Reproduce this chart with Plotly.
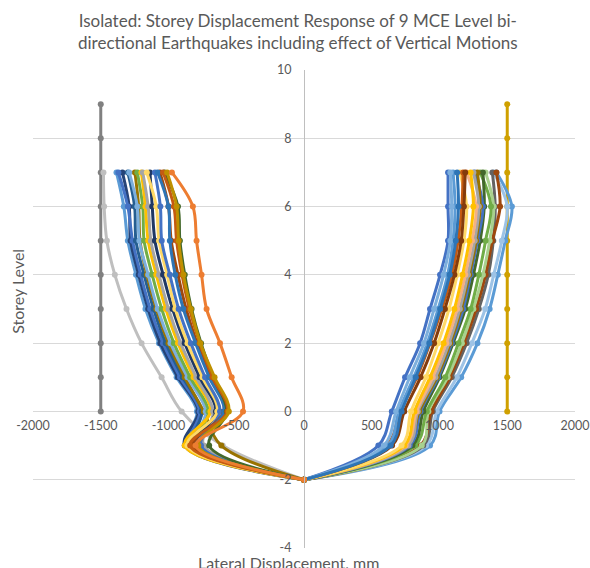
import plotly.graph_objects as go

LEVELS = [7, 6, 5, 4, 3, 2, 1, 0, -1, -2]
REF_LEVELS = [0, 1, 2, 3, 4, 5, 6, 7, 8, 9]
REF_LEFT_X = [-1500] * 10
REF_RIGHT_X = [1500] * 10

LEFT_SERIES = [
    [-1480, -1475, -1455, -1396, -1310, -1199, -1051, -903, -600, 0],
    [-1384, -1330, -1300, -1240, -1170, -1070, -940, -790, -860, 0],
    [-1340, -1290, -1280, -1220, -1150, -1060, -930, -780, -880, 0],
    [-1370, -1300, -1265, -1205, -1135, -1040, -915, -770, -840, 0],
    [-1300, -1250, -1240, -1180, -1110, -1020, -895, -755, -820, 0],
    [-1248, -1220, -1210, -1160, -1090, -1000, -880, -740, -610, 0],
    [-1290, -1230, -1215, -1150, -1080, -985, -860, -725, -800, 0],
    [-1230, -1190, -1180, -1120, -1050, -960, -840, -705, -790, 0],
    [-1200, -1170, -1150, -1090, -1020, -930, -815, -690, -880, 0],
    [-1190, -1150, -1130, -1070, -1000, -910, -795, -670, -740, 0],
    [-1137, -1120, -1100, -1040, -970, -880, -770, -650, -800, 0],
    [-1160, -1090, -1070, -1010, -950, -860, -750, -640, -860, 0],
    [-1100, -1060, -1050, -990, -925, -835, -730, -620, -760, 0],
    [-1063, -1000, -980, -930, -870, -790, -690, -590, -820, 0],
    [-1080, -1000, -990, -950, -890, -800, -700, -590, -780, 0],
    [-1030, -930, -916, -880, -830, -760, -670, -570, -700, 0],
    [-1040, -960, -940, -900, -845, -770, -675, -565, -840, 0],
    [-1010, -940, -925, -890, -835, -765, -660, -555, -780, 0],
    [-975, -820, -793, -756, -719, -620, -534, -450, -800, 0],
]
LEFT_COLORS = [
    "#BFBFBF", "#5B9BD5", "#264478", "#4472C4", "#255E91", "#997300",
    "#7CAFDD", "#70AD47", "#FFC000", "#A5A5A5", "#1F3864", "#FFD966",
    "#4472C4", "#9E480E", "#2E75B6", "#43682B", "#C55A11", "#BF9000",
    "#ED7D31",
]

RIGHT_SERIES = [
    [1420, 1534, 1485, 1430, 1370, 1280, 1160, 1000, 930, 0],
    [1400, 1500, 1460, 1400, 1337, 1239, 1128, 980, 900, 0],
    [1390, 1411, 1397, 1360, 1290, 1200, 1090, 950, 880, 0],
    [1420, 1447, 1390, 1340, 1270, 1180, 1075, 940, 860, 0],
    [1340, 1400, 1370, 1320, 1250, 1165, 1060, 918, 869, 0],
    [1300, 1380, 1340, 1290, 1230, 1140, 1042, 906, 820, 0],
    [1320, 1330, 1300, 1250, 1190, 1100, 1000, 880, 800, 0],
    [1260, 1320, 1280, 1230, 1175, 1090, 990, 860, 780, 0],
    [1280, 1300, 1270, 1220, 1160, 1080, 980, 850, 760, 0],
    [1250, 1290, 1260, 1210, 1150, 1070, 970, 840, 770, 0],
    [1200, 1270, 1240, 1190, 1130, 1050, 950, 830, 750, 0],
    [1230, 1250, 1220, 1170, 1110, 1030, 930, 815, 740, 0],
    [1150, 1200, 1180, 1130, 1070, 990, 900, 790, 720, 0],
    [1174, 1165, 1137, 1091, 1017, 930, 833, 709, 611, 0],
    [1190, 1180, 1160, 1110, 1040, 960, 860, 740, 650, 0],
    [1100, 1115, 1100, 1060, 990, 910, 810, 700, 620, 0],
    [1063, 1063, 1063, 1004, 930, 857, 746, 648, 549, 0],
    [1080, 1090, 1080, 1030, 960, 885, 780, 680, 590, 0],
    [1130, 1140, 1120, 1075, 1005, 925, 825, 720, 640, 0],
]
RIGHT_COLORS = [
    "#5B9BD5", "#9DC3E6", "#636363", "#9E480E", "#A9D18E", "#70AD47",
    "#43682B", "#4472C4", "#997300", "#A5A5A5", "#F4B183", "#FFC000",
    "#FFD966", "#C55A11", "#843C0C", "#5B9BD5", "#4472C4", "#7CAFDD",
    "#2E75B6",
]

X_TICKS = [-2000, -1500, -1000, -500, 0, 500, 1000, 1500, 2000]
Y_TICKS = [-4, -2, 0, 2, 4, 6, 8, 10]

TITLE = ("Isolated: Storey Displacement Response of 9 MCE Level bi-<br>"
         "directional Earthquakes including effect of Vertical Motions")

fig = go.Figure()

def add(xs, ys, color):
    fig.add_trace(go.Scatter(
        x=xs, y=ys, mode="lines+markers",
        line=dict(color=color, width=3, shape="spline", smoothing=1.0),
        marker=dict(color=color, size=6),
        showlegend=False, hoverinfo="skip",
    ))

add(REF_LEFT_X, REF_LEVELS, "#808080")
add(REF_RIGHT_X, REF_LEVELS, "#CFA000")
for xs, c in zip(RIGHT_SERIES, RIGHT_COLORS):
    add(xs, LEVELS, c)
for xs, c in zip(LEFT_SERIES, LEFT_COLORS):
    add(xs, LEVELS, c)

xtickfont = dict(family="Lato", size=12.5, color="#595959")
ytickfont = dict(family="Lato", size=12.5, color="#595959")

fig.update_layout(
    width=590, height=568,
    margin=dict(l=33, r=15, t=70, b=20),
    paper_bgcolor="white", plot_bgcolor="white",
    xaxis=dict(
        range=[-2000, 2000], tickvals=X_TICKS, ticktext=[str(v) for v in X_TICKS],
        showgrid=False, zeroline=False, showline=False, automargin=False,
        anchor="free", position=4 / 14, ticks="", ticklabelstandoff=5,
        tickfont=xtickfont,
    ),
    yaxis=dict(
        range=[-4, 10], tickvals=Y_TICKS, ticktext=[str(v) for v in Y_TICKS],
        showgrid=True, gridcolor="#D9D9D9", gridwidth=1, zeroline=False,
        showline=True, linecolor="#BFBFBF", linewidth=1, automargin=False,
        anchor="free", position=0.5, ticks="", ticklabelstandoff=10,
        tickfont=ytickfont,
    ),
    annotations=[
        dict(text=TITLE, x=(298 - 33) / 542, y=(548 - 32) / 478, xref="paper", yref="paper",
             showarrow=False, xanchor="center", yanchor="middle", align="center",
             font=dict(family="Lato", size=17, color="#595959")),
        dict(text="Storey Level", x=-0.028, y=0.5377, xref="paper", yref="paper",
             textangle=-90, showarrow=False, xanchor="center", yanchor="middle",
             font=dict(family="Lato", size=16, color="#595959")),
        dict(text="Lateral Displacement, mm", x=0.4705, y=-0.03, xref="paper", yref="paper",
             showarrow=False, xanchor="center", yanchor="middle",
             font=dict(family="Lato", size=16, color="#595959")),
    ],
)

fig.write_html("out.html")
